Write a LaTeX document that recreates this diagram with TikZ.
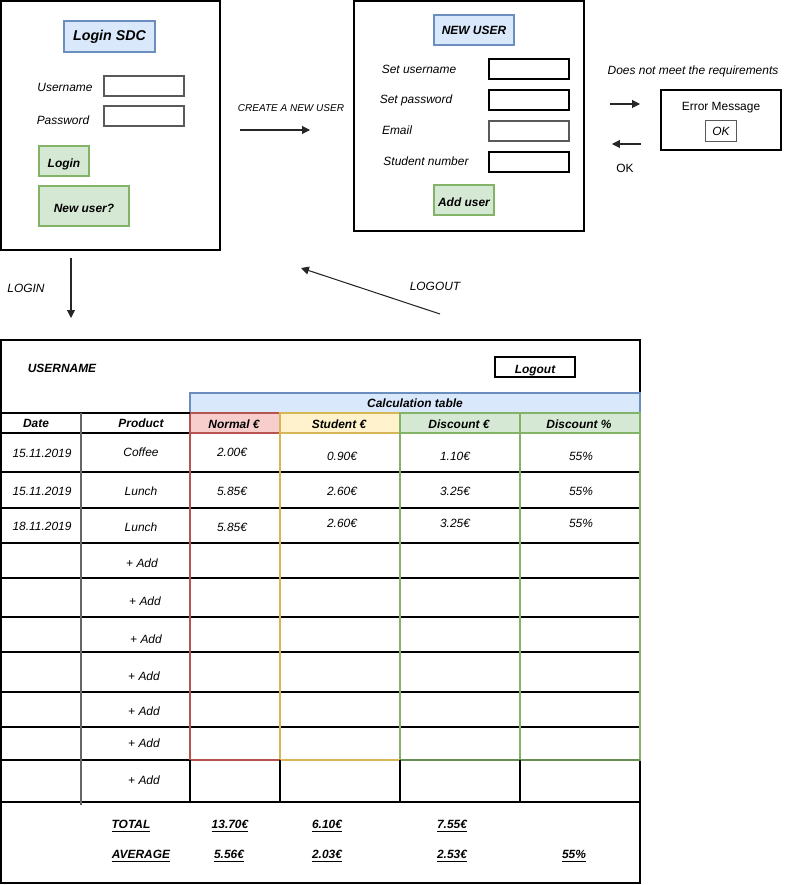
\documentclass[tikz,border=0pt]{standalone}
\usepackage{fontspec}
\setmainfont{Liberation Sans}
\usetikzlibrary{arrows.meta}

\definecolor{bluefill}{HTML}{DAE8FC}
\definecolor{blueline}{HTML}{6C8EBF}
\definecolor{greenfill}{HTML}{D5E8D4}
\definecolor{greenline}{HTML}{82B366}
\definecolor{redfill}{HTML}{F8CECC}
\definecolor{redline}{HTML}{B85450}
\definecolor{yellowfill}{HTML}{FFF2CC}
\definecolor{yellowline}{HTML}{D6B656}

\newcommand{\px}{0.02cm}
\newcommand{\txt}{\fontsize{6.8}{8}\selectfont}

\tikzset{
  every node/.style={font=\txt\itshape, inner sep=0pt, outer sep=0pt},
  frame/.style={draw, line width=0.6pt, anchor=north west},
  field/.style={draw=black!65, line width=0.8pt, anchor=north west,
    minimum width=80*\px, minimum height=20*\px},
  titlebox/.style={draw=blueline, fill=bluefill, line width=0.6pt, anchor=north west},
  button/.style={draw=greenline, fill=greenfill, line width=0.6pt, anchor=north west,
    font=\txt\bfseries\itshape, text height=1.6ex, text depth=0.3ex},
  hcell/.style={font=\txt\bfseries\itshape},
  sumcell/.style={font=\txt\bfseries\itshape},
  flow/.style={-{Triangle[length=4.5pt,width=4.5pt]}, line width=0.6pt, black!85},
  grid/.style={line width=0.6pt}
}

\begin{document}
\begin{tikzpicture}[x=0.02cm, y=-0.02cm]
    \useasboundingbox (0,0) rectangle (789,885);

    % Login screen
    \node[frame, minimum width=219*\px, minimum height=249*\px] (loginframe) at (1,1) {};
    \node[titlebox, minimum width=91*\px, minimum height=31*\px,
      font=\fontsize{8.1}{10}\selectfont\bfseries\itshape] (logintitle) at (64,21) {Login SDC};
    \node (username) at (65,87) {Username};
    \node[field] (usernamein) at (104,76) {};
    \node (password) at (63,120) {Password};
    \node[field] (passwordin) at (104,106) {};
    \node[button, minimum width=50*\px, minimum height=30*\px] (loginbtn) at (39,146) {Login};
    \node[button, minimum width=90*\px, minimum height=40*\px] (newuserbtn) at (39,186) {New user?};

    % New user screen
    \node[frame, minimum width=230*\px, minimum height=230*\px] (newframe) at (354,1) {};
    \node[titlebox, minimum width=80*\px, minimum height=30*\px,
      font=\txt\bfseries\itshape] (newtitle) at (434,15) {NEW USER};
    \node (setuser) at (419,69) {Set username};
    \node[field, draw=black] (setuserin) at (489,59) {};
    \node (setpass) at (416,100) {Set password};
    \node[field, draw=black] (setpassin) at (489,90) {};
    \node (email) at (397,130) {Email};
    \node[field] (emailin) at (489,121) {};
    \node (studnum) at (426,161) {Student number};
    \node[field, draw=black] (studnumin) at (489,152) {};
    \node[button, minimum width=60*\px, minimum height=30*\px] (adduser) at (434,185) {Add user};

    % Error message
    \node (require) at (693,71) {Does not meet the requirements};
    \node[frame, minimum width=120*\px, minimum height=60*\px] (errframe) at (661,90) {};
    \node[font=\txt] (errmsg) at (721,108) {Error Message};
    \node[draw=black!65, line width=0.8pt, minimum width=31*\px, minimum height=21*\px] (okbtn) at (721,131) {OK};
    \node[font=\txt] (oklabel) at (625,168) {OK};

    % Arrows between screens
    \coordinate (login-from) at (71,258);
    \coordinate (login-to) at (71,318);
    \coordinate (create-from) at (240,130);
    \coordinate (create-to) at (310,130);
    \coordinate (err-from) at (610,104);
    \coordinate (err-to) at (640,104);
    \coordinate (ok-from) at (641,144);
    \coordinate (ok-to) at (612,144);
    \coordinate (logout-from) at (440,314);
    \coordinate (logout-to) at (301,268);
    \draw[flow] (login-from) -- (login-to);
    \draw[flow] (create-from) -- (create-to);
    \draw[flow] (err-from) -- (err-to);
    \draw[flow] (ok-from) -- (ok-to);
    \draw[flow] (logout-from) -- (logout-to);
    \node (loginlabel) at (26,288) {LOGIN};
    \node[font=\fontsize{5.7}{7}\selectfont\itshape] (createlabel) at (291,108) {CREATE A NEW USER};
    \node (logoutlabel) at (435,286) {LOGOUT};

    % Main screen with table
    \node[frame, minimum width=639*\px, minimum height=543*\px] (mainframe) at (1,340) {};
    \node[hcell] (usertitle) at (62,368) {USERNAME};
    \node[frame, minimum width=80*\px, minimum height=20*\px, font=\txt\bfseries\itshape,
      text height=1.6ex, text depth=0.3ex] (logoutbtn) at (495,357) {Logout};
    \node[titlebox, minimum width=450*\px, minimum height=20*\px, font=\txt\bfseries\itshape] (calctitle) at (190,393) {Calculation table};

    % Colored column headers
    \node[frame, draw=redline, fill=redfill, minimum width=90*\px, minimum height=20*\px] (hnormal) at (190,413) {};
    \node[frame, draw=yellowline, fill=yellowfill, minimum width=120*\px, minimum height=20*\px] (hstudent) at (280,413) {};
    \node[frame, draw=greenline, fill=greenfill, minimum width=120*\px, minimum height=20*\px] (hdiscount) at (400,413) {};
    \node[frame, draw=greenline, fill=greenfill, minimum width=120*\px, minimum height=20*\px] (hpercent) at (520,413) {};

    % Row lines
    \draw[grid] (1,413) -- (190,413);
    \draw[grid] (1,433) -- (190,433);
    \foreach \y in {472,508,543,578,617,652,692,727}
        \draw[grid] (1,\y) -- (640,\y);
    \draw[grid] (1,760) -- (640,760);
    \draw[grid] (1,802) -- (640,802);

    % Colored column bodies
    \draw[grid, redline] (190,433) rectangle (280,760);
    \draw[grid, yellowline] (280,433) rectangle (400,760);
    \draw[grid, greenline] (400,433) rectangle (520,760);
    \draw[grid, greenline] (520,433) rectangle (640,760);
    \draw[grid, redline] (190,760) -- (280,760);
    \draw[grid, yellowline] (280,760) -- (400,760);
    \draw[grid, greenline!80!black] (400,760) -- (640,760);

    % Last row and first column divider
    \foreach \x in {190,280,400,520}
        \draw[grid] (\x,760) -- (\x,802);
    \draw[grid, black!60] (81,413) -- (81,805);

    % Header texts
    \node[hcell] (hdate) at (36,423) {Date};
    \node[hcell] (hproduct) at (141,423) {Product};
    \node[hcell] (tnormal) at (234,424) {Normal €};
    \node[hcell] (tstudent) at (339,424) {Student €};
    \node[hcell] (tdiscount) at (459,424) {Discount €};
    \node[hcell] (tpercent) at (579,424) {Discount \%};

    % Data rows
    \node (d1) at (42,453) {15.11.2019};
    \node (p1) at (141,452) {Coffee};
    \node (n1) at (232,452) {2.00€};
    \node (s1) at (342,456) {0.90€};
    \node (e1) at (455,456) {1.10€};
    \node (q1) at (581,456) {55\%};
    \node (d2) at (42,491) {15.11.2019};
    \node (p2) at (141,491) {Lunch};
    \node (n2) at (232,491) {5.85€};
    \node (s2) at (342,491) {2.60€};
    \node (e2) at (455,491) {3.25€};
    \node (q2) at (581,491) {55\%};
    \node (d3) at (42,526) {18.11.2019};
    \node (p3) at (141,527) {Lunch};
    \node (n3) at (232,527) {5.85€};
    \node (s3) at (342,523) {2.60€};
    \node (e3) at (455,523) {3.25€};
    \node (q3) at (581,523) {55\%};
    \foreach \y/\x [count=\i] in {563/142,601/145,639/146,676/144,711/144,743/144,780/144}
        \node (add\i) at (\x,\y) {+ Add};

    % Totals
    \node[sumcell] (total) at (131,826) {\underline{TOTAL}};
    \node[sumcell] (totn) at (230,826) {\underline{13.70€}};
    \node[sumcell] (tots) at (327,826) {\underline{6.10€}};
    \node[sumcell] (tote) at (452,826) {\underline{7.55€}};
    \node[sumcell] (average) at (141,856) {\underline{AVERAGE}};
    \node[sumcell] (avgn) at (229,856) {\underline{5.56€}};
    \node[sumcell] (avgs) at (327,856) {\underline{2.03€}};
    \node[sumcell] (avge) at (452,856) {\underline{2.53€}};
    \node[sumcell] (avgq) at (574,856) {\underline{55\%}};
\end{tikzpicture}
\end{document}
